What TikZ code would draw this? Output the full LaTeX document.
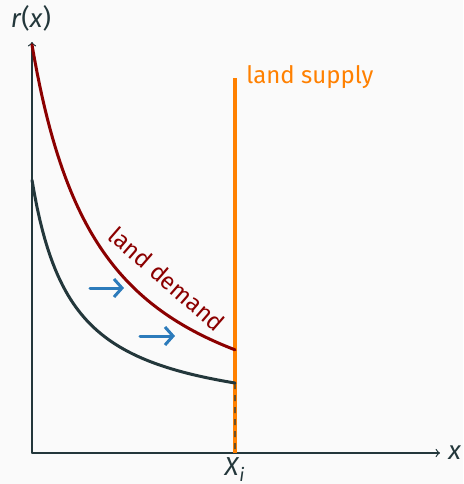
\documentclass[tikz,border=0pt]{standalone}
\usepackage{fontspec}
\setmainfont{Fira Sans}
\usetikzlibrary{arrows.meta}
\definecolor{mDarkTeal}{HTML}{23373B}
\definecolor{bgfill}{HTML}{FAFAFA}
\definecolor{demandred}{HTML}{8B0000}
\definecolor{shiftblue}{HTML}{2C7BBB}
\tikzset{
	curve/.style={line width=1.5pt},
	shiftarrow/.style={-{Straight Barb[length=4pt,width=9pt,line width=1.5pt]},shiftblue,line width=1.5pt},
	axis/.style={->,mDarkTeal,line width=0.6pt},
}
\begin{document}
\begin{tikzpicture}[x=0.5pt, y=0.5pt, line join=round, line cap=round, >=to, font=\fontsize{12}{14}\selectfont]
	\fill[bgfill] (0,0) rectangle (463,484);
	\useasboundingbox (0,0) rectangle (463,484);
	% axes
	\coordinate (O) at (32,31);
	\coordinate (xend) at (440,31);
	\coordinate (yend) at (32,442);
	\draw[axis] (O) -- (xend);
	\draw[axis] (O) -- (yend);
	\node[mDarkTeal, inner sep=0, font=\fontsize{13}{15}\selectfont] (rlabel) at (31,466) {\textit{r}(\textit{x})};
	\node[mDarkTeal, inner sep=0, anchor=west, font=\fontsize{13}{15}\selectfont] (xlabel) at (448,31) {\textit{x}};
	% land supply
	\coordinate (Xi) at (235,31);
	\coordinate (supplytop) at (235,406);
	\draw[orange, line width=1.7pt, line cap=butt] (Xi) -- (supplytop);
	\node[orange, inner sep=0, anchor=base west] (supply) at (246,401) {land supply};
	\node[mDarkTeal, inner sep=0, font=\fontsize{13}{15}\selectfont] (Xilabel) at (235,14) {\textit{X}\textsubscript{\textit{i}}};
	% bid rent curves
	\draw[curve, mDarkTeal] plot[domain=0:203, samples=80] ({32+\x},{61+9720/(\x+40)}) coordinate (oldend);
	\draw[curve, demandred] plot[domain=0:203, samples=80] ({32+\x},{29+287.12/(\x+70)*100}) coordinate (newend);
	\draw[mDarkTeal, dashed, line width=0.7pt, line cap=butt] (oldend) -- (Xi);
	\node[demandred, rotate=-41, inner sep=0] (demand) at (167,205) {land demand};
	% shift
	\coordinate (s1) at (90,196);
	\coordinate (e1) at (124,196);
	\coordinate (s2) at (140,148);
	\coordinate (e2) at (175,148);
	\draw[shiftarrow] (s1) -- (e1);
	\draw[shiftarrow] (s2) -- (e2);
\end{tikzpicture}
\end{document}
